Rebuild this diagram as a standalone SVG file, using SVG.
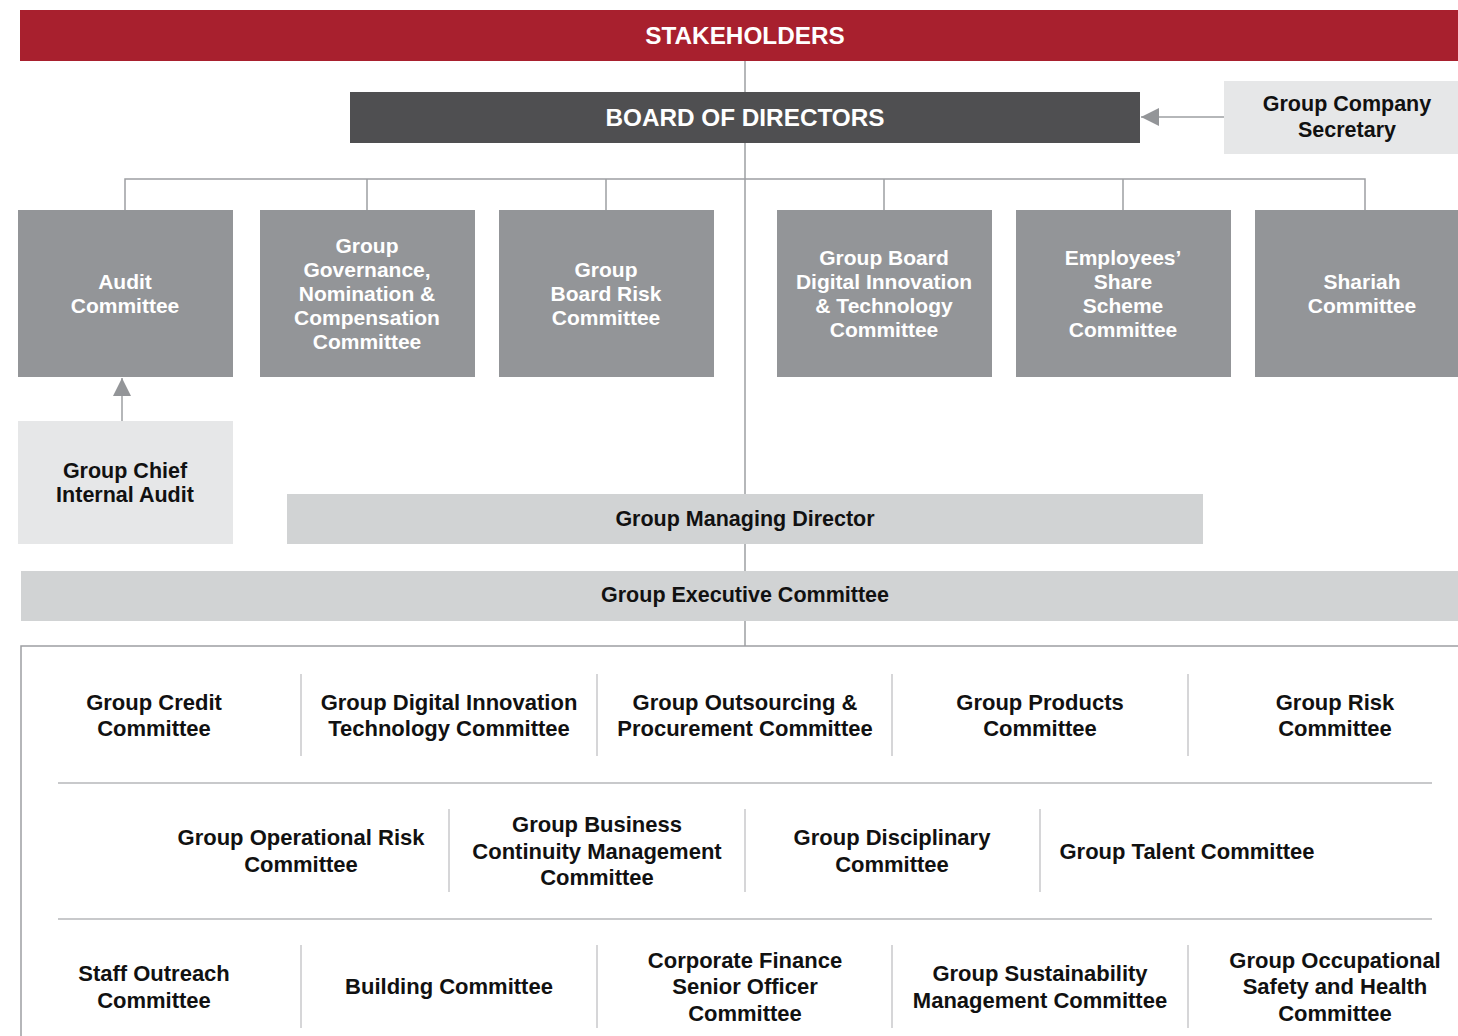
<svg xmlns="http://www.w3.org/2000/svg" width="1458" height="1036" viewBox="0 0 1458 1036">
<defs>
<style>
text{font-family:"Liberation Sans",Arial,sans-serif;font-weight:bold;text-anchor:middle;dominant-baseline:central;transform:translateY(-1px)}
.w{fill:#ffffff;font-size:21px}
.b{fill:#111111;font-size:21.5px}
.c{fill:#111111;font-size:22px}
.h{fill:#ffffff;font-size:24.3px}
.com{fill:#939598}
.lite{fill:#e6e7e8}
.mid{fill:#d1d3d4}
.ln{stroke:#9d9fa2;stroke-width:1.5;fill:none}
.sep{stroke:#c8c9cb;stroke-width:2;fill:none}
.div{stroke:#c8c9cb;stroke-width:1.5;fill:none}
</style>
<marker id="ah2" viewBox="0 0 10 10" refX="10" refY="5" markerWidth="18" markerHeight="18" markerUnits="userSpaceOnUse" orient="auto">
<path d="M0,0 L10,5 L0,10 z" fill="#939598"/>
</marker>
</defs>
<rect width="1458" height="1036" fill="#ffffff"/>

<g id="connectors">
<line class="ln" x1="745" y1="61" x2="745" y2="646"/>
<polyline class="ln" points="125,210 125,179 1365,179 1365,210"/>
<line class="ln" x1="367" y1="179" x2="367" y2="210"/>
<line class="ln" x1="606" y1="179" x2="606" y2="210"/>
<line class="ln" x1="884" y1="179" x2="884" y2="210"/>
<line class="ln" x1="1123" y1="179" x2="1123" y2="210"/>
<line class="ln" x1="1224" y1="117" x2="1141" y2="117" marker-end="url(#ah2)"/>
<line class="ln" x1="122" y1="421" x2="122" y2="378" marker-end="url(#ah2)"/>
<polyline class="ln" points="21,1036 21,646 1458,646"/>
</g>

<g id="stakeholders">
<rect x="20" y="10" width="1438" height="51" fill="#a8202e"/>
<text class="h" x="745" y="36">STAKEHOLDERS</text>
</g>

<g id="board">
<rect x="350" y="92" width="790" height="51" fill="#4f4f51"/>
<text class="h" x="745" y="118" font-size="24.8">BOARD OF DIRECTORS</text>
</g>

<g id="secretary">
<rect class="lite" x="1224" y="81" width="234" height="73"/>
<text class="b" x="1347" y="105">Group Company</text>
<text class="b" x="1347" y="131">Secretary</text>
</g>

<g id="audit">
<rect class="com" x="18" y="210" width="215" height="167"/>
<text class="w" x="125" y="282">Audit</text>
<text class="w" x="125" y="306">Committee</text>
</g>

<g id="gnc">
<rect class="com" x="260" y="210" width="215" height="167"/>
<text class="w" x="367" y="246">Group</text>
<text class="w" x="367" y="270">Governance,</text>
<text class="w" x="367" y="294">Nomination &amp;</text>
<text class="w" x="367" y="318">Compensation</text>
<text class="w" x="367" y="342">Committee</text>
</g>

<g id="gbrc">
<rect class="com" x="499" y="210" width="215" height="167"/>
<text class="w" x="606" y="270">Group</text>
<text class="w" x="606" y="294">Board Risk</text>
<text class="w" x="606" y="318">Committee</text>
</g>

<g id="gbdit">
<rect class="com" x="777" y="210" width="215" height="167"/>
<text class="w" x="884" y="258">Group Board</text>
<text class="w" x="884" y="282">Digital Innovation</text>
<text class="w" x="884" y="306">&amp; Technology</text>
<text class="w" x="884" y="330">Committee</text>
</g>

<g id="essc">
<rect class="com" x="1016" y="210" width="215" height="167"/>
<text class="w" x="1123" y="258">Employees’</text>
<text class="w" x="1123" y="282">Share</text>
<text class="w" x="1123" y="306">Scheme</text>
<text class="w" x="1123" y="330">Committee</text>
</g>

<g id="shariah">
<rect class="com" x="1255" y="210" width="203" height="167"/>
<text class="w" x="1362" y="282">Shariah</text>
<text class="w" x="1362" y="306">Committee</text>
</g>

<g id="gcia">
<rect class="lite" x="18" y="421" width="215" height="123"/>
<text class="b" x="125" y="472">Group Chief</text>
<text class="b" x="125" y="496">Internal Audit</text>
</g>

<g id="gmd">
<rect class="mid" x="287" y="494" width="916" height="50"/>
<text class="b" x="745" y="520">Group Managing Director</text>
</g>

<g id="gec">
<rect class="mid" x="21" y="571" width="1437" height="50"/>
<text class="b" x="745" y="596">Group Executive Committee</text>
</g>

<g id="dividers">
<line class="sep" x1="58" y1="783" x2="1432" y2="783"/>
<line class="sep" x1="58" y1="919" x2="1432" y2="919"/>
<line class="div" x1="301" y1="674" x2="301" y2="756"/>
<line class="div" x1="597" y1="674" x2="597" y2="756"/>
<line class="div" x1="892" y1="674" x2="892" y2="756"/>
<line class="div" x1="1188" y1="674" x2="1188" y2="756"/>
<line class="div" x1="449" y1="809" x2="449" y2="892"/>
<line class="div" x1="745" y1="809" x2="745" y2="892"/>
<line class="div" x1="1040" y1="809" x2="1040" y2="892"/>
<line class="div" x1="301" y1="945" x2="301" y2="1028"/>
<line class="div" x1="597" y1="945" x2="597" y2="1028"/>
<line class="div" x1="892" y1="945" x2="892" y2="1028"/>
<line class="div" x1="1188" y1="945" x2="1188" y2="1028"/>
</g>

<g id="gcc"><text class="c" x="154" y="703">Group Credit</text><text class="c" x="154" y="729">Committee</text></g>
<g id="gditc"><text class="c" x="449" y="703">Group Digital Innovation</text><text class="c" x="449" y="729">Technology Committee</text></g>
<g id="gopc"><text class="c" x="745" y="703">Group Outsourcing &amp;</text><text class="c" x="745" y="729">Procurement Committee</text></g>
<g id="gpc"><text class="c" x="1040" y="703">Group Products</text><text class="c" x="1040" y="729">Committee</text></g>
<g id="grc"><text class="c" x="1335" y="703">Group Risk</text><text class="c" x="1335" y="729">Committee</text></g>

<g id="gorc"><text class="c" x="301" y="838">Group Operational Risk</text><text class="c" x="301" y="865">Committee</text></g>
<g id="gbcmc"><text class="c" x="597" y="825">Group Business</text><text class="c" x="597" y="852">Continuity Management</text><text class="c" x="597" y="878">Committee</text></g>
<g id="gdc"><text class="c" x="892" y="838">Group Disciplinary</text><text class="c" x="892" y="865">Committee</text></g>
<g id="gtc"><text class="c" x="1187" y="852">Group Talent Committee</text></g>

<g id="soc"><text class="c" x="154" y="974">Staff Outreach</text><text class="c" x="154" y="1001">Committee</text></g>
<g id="bc"><text class="c" x="449" y="987">Building Committee</text></g>
<g id="cfsoc"><text class="c" x="745" y="961">Corporate Finance</text><text class="c" x="745" y="987">Senior Officer</text><text class="c" x="745" y="1014">Committee</text></g>
<g id="gsmc"><text class="c" x="1040" y="974">Group Sustainability</text><text class="c" x="1040" y="1001">Management Committee</text></g>
<g id="gohsc"><text class="c" x="1335" y="961">Group Occupational</text><text class="c" x="1335" y="987">Safety and Health</text><text class="c" x="1335" y="1014">Committee</text></g>
</svg>
